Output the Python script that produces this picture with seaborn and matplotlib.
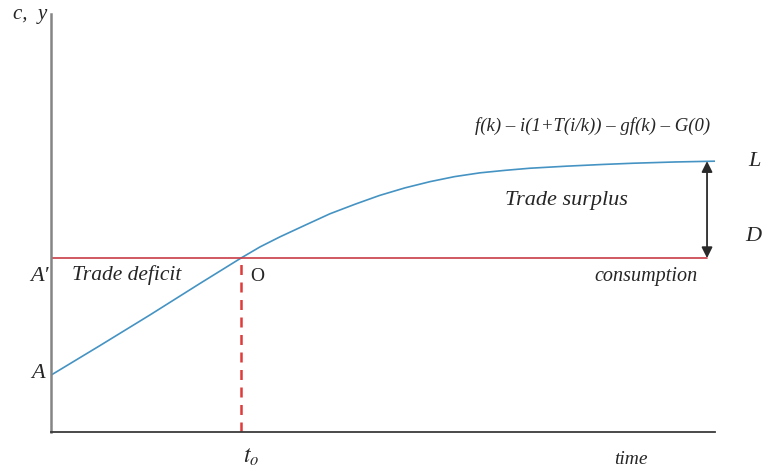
import numpy as np
import pandas as pd
import matplotlib.pyplot as plt
import seaborn as sns

# curve (time axis 0..10, level axis 0..10)
time = [0.0, 0.74, 1.49, 2.24, 2.86, 3.15, 3.45, 3.83, 4.2, 4.58, 4.95,
        5.33, 5.71, 6.08, 6.46, 6.84, 7.21, 7.77, 8.3, 8.77, 9.4, 10.03]
output = [1.36, 2.07, 2.8, 3.55, 4.16, 4.43, 4.67, 4.95, 5.22, 5.45, 5.66,
          5.84, 5.99, 6.11, 6.2, 6.26, 6.31, 6.36, 6.4, 6.43, 6.46, 6.48]

consumption_level = 4.16
t0 = 2.86
x_end = 9.88
top_level = 6.48

sns.set_style("white")
plt.rcParams["font.family"] = ["Liberation Serif", "DejaVu Serif"]
plt.rcParams["mathtext.fontset"] = "stix"

fig = plt.figure(figsize=(7.67, 4.72), dpi=100)
ax = fig.add_axes([51 / 767, 40 / 472, 664 / 767, 418 / 472])

df = pd.DataFrame({"time": time, "output": output})
sns.lineplot(data=df, x="time", y="output", ax=ax, color="#4593c3", linewidth=1.2)

ax.plot([0, x_end], [consumption_level, consumption_level], color="#c83c46", linewidth=1.2)
ax.plot([t0, t0], [0, consumption_level], color="#e03a3a", linewidth=1.8,
        linestyle=(0, (4, 3)))
ax.annotate("", xy=(x_end, top_level), xytext=(x_end, consumption_level),
            arrowprops=dict(arrowstyle="<|-|>", color="#2a2a2a", lw=1.3,
                            mutation_scale=16, shrinkA=0, shrinkB=0))

ax.set_xlim(0, 10)
ax.set_ylim(0, 10)
ax.set_xticks([]); ax.set_yticks([])
ax.set_xlabel(""); ax.set_ylabel("")
for s in ["top", "right"]:
    ax.spines[s].set_visible(False)
ax.spines["left"].set_color("#858585")
ax.spines["left"].set_linewidth(1.8)
ax.spines["bottom"].set_color("#3a3a3a")
ax.spines["bottom"].set_linewidth(1.3)

kw = dict(clip_on=False, va="center", style="italic")
ax.text(-0.32, 9.98, "c,  y", ha="center", fontsize=15, **kw)
ax.text(-0.04, 3.71, "A\u2032", ha="right", fontsize=16, **kw)
ax.text(-0.1, 1.41, "A", ha="right", fontsize=16, **kw)
ax.text(0.32, 3.76, "Trade deficit", ha="left", fontsize=15.5, **kw)
ax.text(3.0, 3.71, "O", ha="left", va="center", fontsize=14, clip_on=False)
ax.text(6.84, 5.55, "Trade surplus", ha="left", fontsize=16, **kw)
ax.text(8.19, 3.71, "consumption", ha="left", fontsize=14.5, **kw)
ax.text(10.5, 6.46, "L", ha="left", fontsize=16, **kw)
ax.text(10.45, 4.67, "D", ha="left", fontsize=16, **kw)
ax.text(6.39, 7.32, "f(k) \u2013 i(1+T(i/k)) \u2013 gf(k) \u2013 G(0)", ha="left",
        fontsize=13.5, **kw)
ax.text(3.02, -0.6, "$t_o$", ha="center", va="center", fontsize=17, clip_on=False)
ax.text(8.73, -0.65, "time", ha="center", fontsize=14, **kw)

fig.savefig("out.png", dpi=100)
